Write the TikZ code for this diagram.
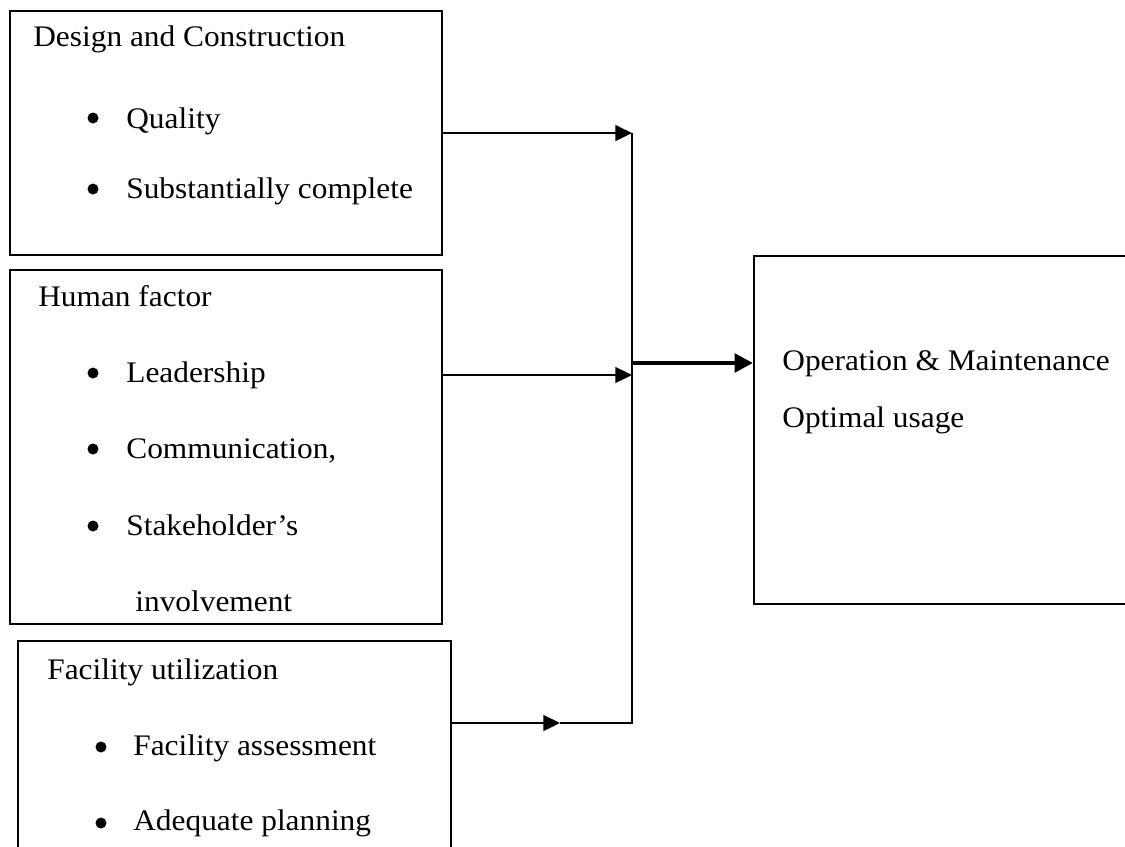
\documentclass[tikz,border=0pt]{standalone}
\usepackage{fontspec}
\setmainfont{Liberation Serif}[FakeStretch=1.05]
\usepackage{tikz}
\usetikzlibrary{calc,arrows.meta,positioning}

\tikzset{
  panel/.style={draw, rectangle, line width=1.2pt, anchor=north west, inner sep=0pt},
  entry/.style={anchor=base west, inner sep=0pt},
  wire/.style={line width=1.1pt},
  link/.style={wire, -{Triangle[length=9.5pt, width=9pt]}},
  mainlink/.style={line width=2.4pt, -{Triangle[length=10.5pt, width=10.5pt]}}
}

\begin{document}
\begin{tikzpicture}[x=0.02cm, y=-0.02cm, font=\fontsize{17pt}{20pt}\selectfont]
\clip (0,0) rectangle (1125,846);

% the four boxes
\node[panel, minimum width=8.64cm, minimum height=4.88cm] (design) at (9,10) {};
\node[panel, minimum width=8.64cm, minimum height=7.08cm] (human) at (9,269) {};
\node[panel, minimum width=8.66cm, minimum height=4.6cm] (facility) at (17,640) {};
\node[panel, minimum width=8.2cm, minimum height=6.96cm] (outcome) at (753,255) {};

% headings
\node[entry] (designtitle) at (33,46) {Design and Construction};
\node[entry] (humantitle) at (38,306) {Human factor};
\node[entry] (facilitytitle) at (47,679) {Facility utilization};
\node[entry] (operation) at (782,370) {Operation \& Maintenance};
\node[entry] (usage) at (782,427) {Optimal usage};

% bullet items
\node[entry] (quality) at (126,128) {Quality};
\node[entry] (complete) at (126,198) {Substantially complete};
\node[entry] (leadership) at (126,382) {Leadership};
\node[entry] (communication) at (126,458) {Communication,};
\node[entry] (stakeholder) at (126,535) {Stakeholder’s};
\node[entry] (involvement) at (135,611) {involvement};
\node[entry] (assessment) at (133,755) {Facility assessment};
\node[entry] (planning) at (133,830) {Adequate planning};

\foreach \x/\y in {93/118,93/189,93/373,93/449,93/526,101/747,101/823}
{
    \fill (\x,\y) circle (5.5);
}

% connectors
\coordinate (bus) at (632,723);
\coordinate (leadout) at (441,375);
\coordinate (facout) at (450,723);
\coordinate (facmid) at (560,723);
\coordinate (hub) at (632,363);

\draw[link] (design.east) -- (design.east -| bus);
\draw[link] (leadout) -- (leadout -| bus);
\draw[link] (facout) -- (facmid);
\draw[wire] (facmid) -- (bus) -- (bus |- design.east);
\draw[mainlink] (hub) -- (hub -| outcome.west);
\end{tikzpicture}
\end{document}
